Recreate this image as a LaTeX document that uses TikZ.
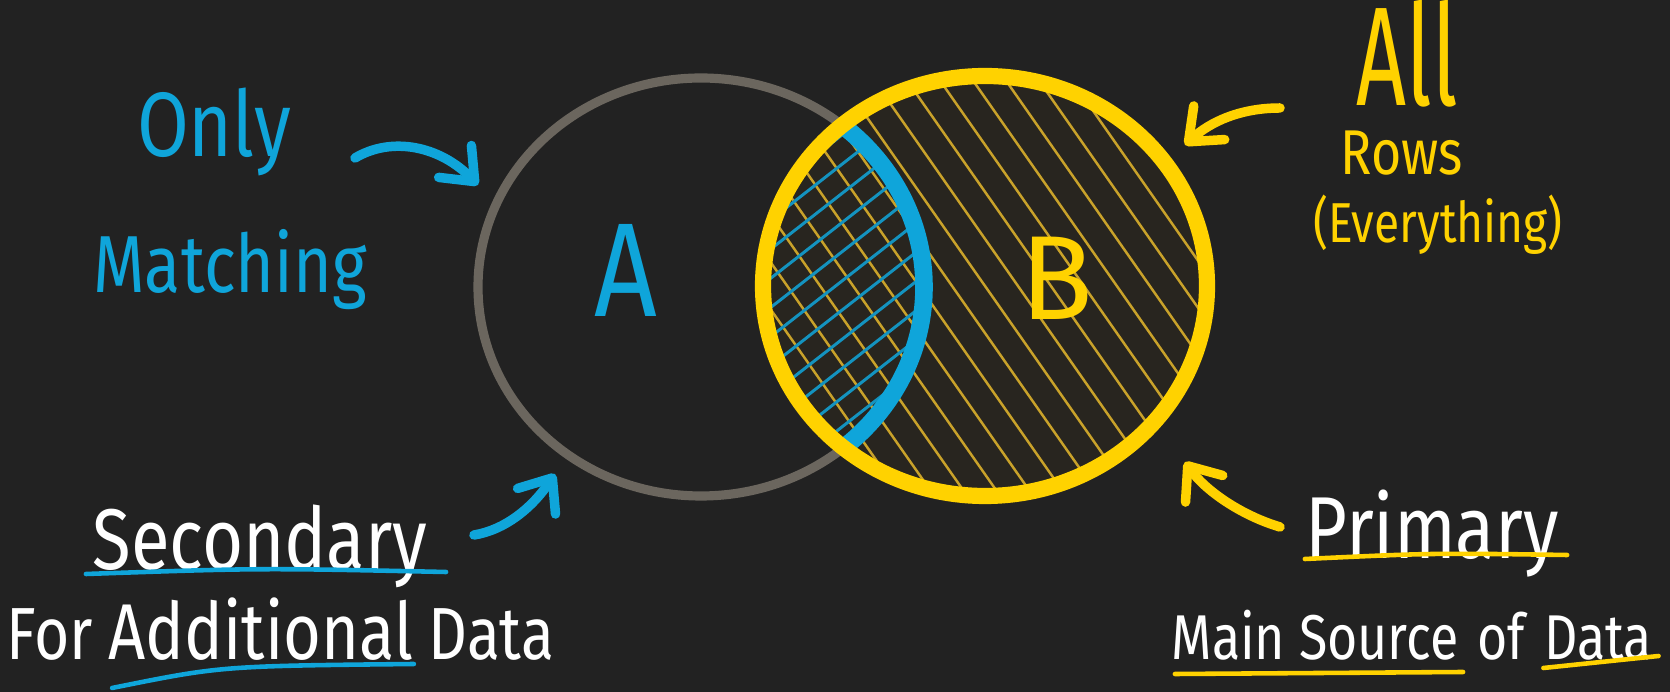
\documentclass[tikz,border=0pt]{standalone}
\usepackage{fontspec}
\newfontfamily\handfont{Fira Sans}[FakeStretch=0.82]
\newfontfamily\tallfont{Fira Sans}[FakeStretch=0.62]
\newfontfamily\wideletter{Fira Sans}
\usetikzlibrary{arrows.meta,calc,positioning}
\definecolor{vn-bg}{HTML}{222222}
\definecolor{vn-fill}{HTML}{28251F}
\definecolor{vn-ring}{HTML}{6B665E}
\definecolor{vn-blue}{HTML}{0FA5DA}
\definecolor{vn-gold}{HTML}{FFD200}
\definecolor{vn-hatch}{HTML}{C9A22A}
\definecolor{vn-bhatch}{HTML}{1493BF}
\newcommand{\hand}[1]{\handfont\fontsize{#1}{#1}\selectfont}

\begin{document}
\begin{tikzpicture}[
    x=0.01cm, y=-0.01cm,
    >={Straight Barb[round, length=8pt, width=13pt]}
  ]

  % Global styles
  \tikzset{
    bluetext/.style={text=vn-blue, inner sep=0pt, anchor=base},
    goldtext/.style={text=vn-gold, inner sep=0pt, anchor=base},
    whitetext/.style={text=white, inner sep=0pt, anchor=base},
    pointer/.style={->, line width=2.7pt, line cap=round},
    underline/.style={line width=1.3pt, line cap=round},
    hatchgold/.style={vn-hatch, line width=0.7pt},
    hatchblue/.style={vn-bhatch, line width=0.85pt}
  }

  % Background
  \fill[vn-bg] (0,0) rectangle (1670,692);
  \useasboundingbox (0,0) rectangle (1670,692);

  \coordinate (cA) at (701,287);
  \coordinate (cB) at (985,286);

  % Set B: filling and hatching
  \fill[vn-fill] (cB) ellipse [x radius=222, y radius=210];
  \begin{scope}
    \clip (cB) ellipse [x radius=222, y radius=210];
    \begin{scope}[shift={(cB)}, rotate=35]
      \foreach \k in {-10,...,10}
        \draw[hatchgold] (\k*27,-300) -- (\k*27,300);
    \end{scope}
  \end{scope}

  % Overlap: cross-hatching
  \begin{scope}
    \clip (cB) ellipse [x radius=222, y radius=210];
    \clip (cA) ellipse [x radius=223, y radius=209];
    \begin{scope}[shift={(cB)}, rotate=-52]
      \foreach \k in {-14,...,14}
        \draw[hatchblue] (\k*23,-300) -- (\k*23,300);
    \end{scope}
  \end{scope}

  % Set A ring
  \draw[vn-ring, line width=2.6pt] (cA) ellipse [x radius=223, y radius=209];

  % Border of A inside B
  \begin{scope}
    \clip (cB) ellipse [x radius=222, y radius=210];
    \draw[vn-blue, line width=5pt] (cA) ellipse [x radius=223, y radius=209];
  \end{scope}

  % Set B ring
  \draw[vn-gold, line width=4.6pt] (cB) ellipse [x radius=222, y radius=210];

  % Circle letters
  \node (labelA) [bluetext, font=\hand{38pt}] at (626,317) {A};
  \node (labelB) [goldtext, font=\wideletter\fontsize{34pt}{34pt}\selectfont] at (1057,320) {B};

  % Left labels
  \node (only)     [bluetext, font=\hand{26pt}] at (214,157) {Only};
  \node (matching) [bluetext, font=\hand{23pt}] at (230,293) {Matching};

  \node (secondary)  [whitetext, font=\hand{24.5pt}] at (260,570) {Secondary};
  \node (additional) [whitetext, font=\hand{22.5pt}] at (261,660) {Additional};
  \node (for)        [whitetext, font=\hand{21pt}, base left=4pt of additional] {For};
  \node (dataA)      [whitetext, font=\hand{21pt}, base right=4pt of additional] {Data};

  % Right labels
  \node (all)      [goldtext, font=\tallfont\fontsize{40pt}{40pt}\selectfont] at (1407,106) {All};
  \node (rows)     [goldtext, font=\hand{18pt}] at (1402,175) {Rows};
  \node (everyall) [goldtext, font=\hand{16pt}] at (1438,243) {(Everything)};

  \node (primary) [whitetext, font=\hand{25pt}] at (1432,559) {Primary};
  \node (mainsrc) [whitetext, font=\hand{18pt}] at (1315,660) {Main Source};
  \node (ofword)  [whitetext, font=\hand{18pt}, base right=5pt of mainsrc] {of};
  \node (dataB)   [whitetext, font=\hand{18pt}, base right=5pt of ofword] {Data};

  % Arrow end points
  \coordinate (onlyTail) at (355,158);
  \coordinate (onlyTip)  at (478,185);
  \coordinate (secTail)  at (474,535);
  \coordinate (secTip)   at (555,474);
  \coordinate (allTail)  at (1280,108);
  \coordinate (allTip)   at (1185,145);
  \coordinate (priTail)  at (1280,527);
  \coordinate (priTip)   at (1185,462);

  % Pointers
  \draw[pointer, vn-blue] (onlyTail) .. controls (392,136) and (440,146) .. (onlyTip);
  \draw[pointer, vn-blue] (secTail) .. controls (505,530) and (532,508) .. (secTip);
  \draw[pointer, vn-gold] (allTail) .. controls (1240,108) and (1210,122) .. (allTip);
  \draw[pointer, vn-gold] (priTail) .. controls (1240,515) and (1205,490) .. (priTip);

  % Underlines
  \draw[underline, vn-blue] ($(secondary.base west)+(-6,4)$) .. controls ($(secondary.base)+(0,-2)$) .. ($(secondary.base east)+(18,2)$);
  \draw[underline, vn-blue] ($(additional.base west)+(4,28)$) .. controls ($(additional.base)+(-40,6)$) .. ($(additional.base east)+(0,4)$);
  \draw[underline, vn-gold] ($(primary.base west)+(0,0)$) .. controls ($(primary.base)+(0,-6)$) .. ($(primary.base east)+(8,-4)$);
  \draw[underline, vn-gold] ($(mainsrc.base west)+(4,14)$) -- ($(mainsrc.base east)+(4,12)$);
  \draw[underline, vn-gold] ($(dataB.base west)+(0,8)$) -- ($(dataB.base east)+(6,-4)$);

\end{tikzpicture}
\end{document}
